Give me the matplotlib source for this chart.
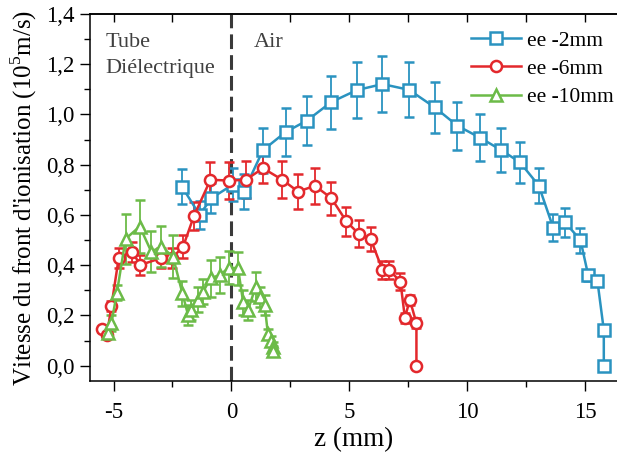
import matplotlib
matplotlib.use("Agg")
import matplotlib.pyplot as plt
from matplotlib.ticker import MultipleLocator, FuncFormatter

plt.rcParams['font.family'] = ['Liberation Serif', 'DejaVu Serif']
plt.rcParams['mathtext.fontset'] = 'custom'
plt.rcParams['mathtext.rm'] = 'Liberation Serif'

# ---- data ----
blue_x = [-2.1, -1.35, -0.85, 0.05, 0.52, 1.34, 2.3, 3.21, 4.23, 5.32, 6.41, 7.54, 8.63, 9.59,
          10.54, 11.43, 12.24, 13.04, 13.65, 14.15, 14.81, 15.14, 15.53, 15.8, 15.8]
blue_y = [0.713, 0.60, 0.667, 0.72, 0.693, 0.858, 0.93, 0.976, 1.049, 1.097, 1.121, 1.098, 1.028,
          0.955, 0.908, 0.859, 0.81, 0.717, 0.55, 0.571, 0.50, 0.359, 0.337, 0.142, 0.0]
blue_err = [0.07, 0.056, 0.061, 0.065, 0.07, 0.089, 0.094, 0.098, 0.106, 0.11, 0.11, 0.11, 0.103,
            0.096, 0.092, 0.088, 0.082, 0.07, 0.055, 0.057, 0.05, 0.02, 0.02, 0.0, 0.0]

red_x = [-5.5, -5.28, -5.09, -4.78, -4.22, -3.86, -3.0, -2.5, -2.05, -1.59, -0.89, -0.1, 0.61,
         1.34, 2.16, 2.83, 3.54, 4.24, 4.88, 5.4, 5.91, 6.41, 6.69, 7.17, 7.36, 7.57, 7.85, 7.85]
red_y = [0.145, 0.122, 0.238, 0.43, 0.454, 0.401, 0.428, 0.43, 0.474, 0.596, 0.74, 0.737, 0.74,
         0.786, 0.74, 0.693, 0.716, 0.667, 0.574, 0.525, 0.504, 0.381, 0.381, 0.335, 0.191, 0.262,
         0.169, 0.0]
red_err = [0.01, 0.01, 0.02, 0.04, 0.04, 0.04, 0.04, 0.04, 0.045, 0.056, 0.071, 0.075, 0.073,
           0.06, 0.073, 0.07, 0.071, 0.066, 0.056, 0.053, 0.048, 0.035, 0.037, 0.033, 0.02, 0.02,
           0.02, 0.0]

green_x = [-5.24, -5.09, -4.86, -4.49, -3.89, -3.4, -2.97, -2.48, -2.08, -1.84, -1.7, -1.42, -1.2,
           -0.88, -0.5, -0.1, 0.28, 0.5, 0.71, 1.03, 1.2, 1.41, 1.55, 1.68, 1.77, 1.77]
green_y = [0.13, 0.17, 0.29, 0.505, 0.554, 0.454, 0.474, 0.434, 0.288, 0.202, 0.222, 0.262, 0.295,
           0.348, 0.361, 0.39, 0.388, 0.252, 0.222, 0.315, 0.272, 0.242, 0.125, 0.1, 0.075, 0.06]
green_err = [0.02, 0.03, 0.03, 0.10, 0.106, 0.083, 0.082, 0.086, 0.05, 0.04, 0.04, 0.05, 0.05,
             0.073, 0.07, 0.066, 0.066, 0.05, 0.04, 0.056, 0.04, 0.04, 0.02, 0.02, 0.02, 0.02]

labels = ['ee -2mm', 'ee -6mm', 'ee -10mm']
colors = ['#2a93c0', '#e3282c', '#6cbb48']

fig = plt.figure(figsize=(6.17, 4.59), dpi=100)
ax = fig.add_axes([90/617, 1 - 381/459, 1 - 90/617, (381 - 14)/459])

series = [(blue_x, blue_y, blue_err, 's'), (red_x, red_y, red_err, 'o'), (green_x, green_y, green_err, '^')]
handles = []
for (x, y, e, m), c, lab in zip(series, colors, labels):
    cont = ax.errorbar(x, y, yerr=e, color=c, marker=m, markersize=8, markerfacecolor='white',
                       markeredgecolor=c, markeredgewidth=1.8, linewidth=1.8, elinewidth=1.3,
                       capsize=3.8, capthick=1.3, label=lab)
    handles.append(cont.lines[0])

ax.axvline(0, color='#3a3a3a', lw=2.2, linestyle=(0, (4.8, 2.0)), zorder=1)

ax.set_xlim(-6.0, 16.36)
ax.set_ylim(-0.061, 1.4)

ax.xaxis.set_major_locator(MultipleLocator(5))
ax.xaxis.set_minor_locator(MultipleLocator(2.5))
ax.yaxis.set_major_locator(MultipleLocator(0.2))
ax.yaxis.set_minor_locator(MultipleLocator(0.1))
ax.yaxis.set_major_formatter(FuncFormatter(lambda v, p: f"{v:.1f}".replace('.', ',').replace('-0,0', '0,0')))
ax.xaxis.set_major_formatter(FuncFormatter(lambda v, p: f"{v:g}"))

ax.tick_params(axis='both', which='major', direction='out', length=7, width=1, labelsize=16.5, colors='black')
ax.tick_params(axis='x', which='major', pad=8)
ax.tick_params(axis='y', which='major', pad=4)
ax.tick_params(axis='both', which='minor', direction='out', length=4, width=1)
ax.spines['right'].set_visible(False)
for s in ['left', 'bottom', 'top']:
    ax.spines[s].set_linewidth(1.1)

sec = ax.secondary_xaxis('top')
sec.xaxis.set_major_locator(MultipleLocator(5))
sec.xaxis.set_minor_locator(MultipleLocator(2.5))
sec.tick_params(axis='x', which='both', direction='in', length=6, width=1, labeltop=False)
sec.spines['top'].set_linewidth(1.1)

ax.set_xlabel('z (mm)', fontsize=19.5, labelpad=3)
ax.set_ylabel("Vitesse du front d'ionisation (10$^5$m/s)", fontsize=18, labelpad=5)

ax.text(-5.34, 1.268, 'Tube', fontsize=16, color='#404040', va='baseline', ha='left')
ax.text(-5.34, 1.164, 'Diélectrique', fontsize=16, color='#404040', va='baseline', ha='left')
ax.text(0.96, 1.268, 'Air', fontsize=16, color='#404040', va='baseline', ha='left')

leg = ax.legend(handles=handles, labels=labels, loc='upper right', bbox_to_anchor=(1.014, 0.984),
                frameon=False, fontsize=15.5, handlelength=2.35, handletextpad=0.25,
                labelspacing=0.38, borderaxespad=0.1)

fig.savefig('out.png', dpi=100)
